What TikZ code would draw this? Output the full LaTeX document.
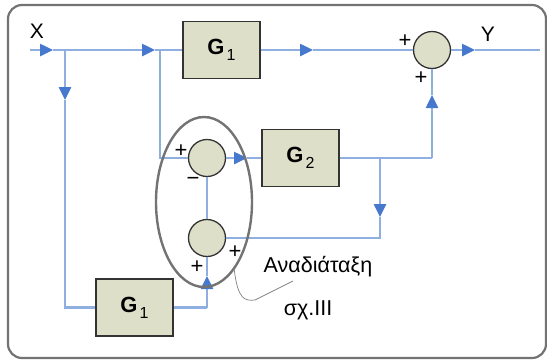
\documentclass[tikz,border=0pt]{standalone}
\usepackage{fontspec}
\setmainfont{Liberation Sans}
\usetikzlibrary{arrows.meta,shapes.geometric}
\definecolor{flowc}{RGB}{143,175,225}
\definecolor{tipc}{RGB}{70,120,205}
\definecolor{boxfill}{RGB}{221,223,200}
\definecolor{framec}{RGB}{115,115,115}
\newcommand{\gsub}[1]{G\hspace{2pt}\raisebox{-6pt}{\fontsize{16}{16}\selectfont\mdseries #1}}
\tikzset{
  flow/.style={draw=flowc, line width=2.5pt},
  flowarr/.style={flow, -{Triangle[length=13pt,width=12pt,color=tipc]}},
  blk/.style={draw=black!80, fill=boxfill, line width=1.3pt, minimum width=77pt, minimum height=57pt, inner sep=0pt, font=\fontsize{22}{24}\selectfont\bfseries},
  sum/.style={circle, draw=black!80, fill=boxfill, line width=1.3pt, minimum size=37pt, inner sep=0pt},
  sgn/.style={font=\fontsize{22}{22}\selectfont, inner sep=0pt},
  lbl/.style={font=\fontsize{21}{21}\selectfont, inner sep=0pt},
  txt/.style={font=\fontsize{21.5}{21.5}\selectfont, inner sep=0pt},
  grpstyle/.style={ellipse, draw=framec, line width=2.4pt, minimum width=96pt, minimum height=170pt, inner sep=0pt},
}
\begin{document}
\begin{tikzpicture}[x=1pt,y=-1pt]
\useasboundingbox (0,0) rectangle (547,360);
\draw[framec, line width=2.2pt, rounded corners=14pt] (8,5) rectangle (546,358);

% blocks
\node[blk] (g1) at (221.5,50) {\gsub{1}};
\node[blk] (g2) at (300.5,158) {\gsub{2}};
\node[blk] (g1b) at (134.5,307.5) {\gsub{1}};
\node[sum] (s1) at (432,50) {};
\node[sum] (sa) at (207,158) {};
\node[sum] (sb) at (207,238) {};

% coordinates
\coordinate (xin) at (30,50);
\coordinate (a1) at (53,50);
\coordinate (j1) at (65,50);
\coordinate (a2) at (155,50);
\coordinate (j2) at (160,50);
\coordinate (a3) at (65,100);
\coordinate (c1) at (65,307.5);
\coordinate (c2) at (160,158);
\coordinate (a4) at (313,50);
\coordinate (a5) at (475,50);
\coordinate (yout) at (540,50);
\coordinate (a6) at (247,158);
\coordinate (c3) at (432,158);
\coordinate (a7) at (432,95);
\coordinate (j3) at (380,158);
\coordinate (a8) at (380,217);
\coordinate (c4) at (380,238);
\coordinate (c5) at (207,307.5);
\coordinate (a9) at (207,276);

% connectors
\draw[flowarr] (xin) -- (a1);
\draw[flowarr] (a1) -- (a2);
\draw[flow] (a2) -- (g1.west);
\draw[flowarr] (j1) -- (a3);
\draw[flow] (a3) -- (c1) -- (g1b.west);
\draw[flow] (j2) -- (c2) -- (sa.west);
\draw[flowarr] (g1.east) -- (a4);
\draw[flow] (a4) -- (s1.west);
\draw[flowarr] (s1.east) -- (a5);
\draw[flow] (a5) -- (yout);
\draw[flowarr] (sa.east) -- (a6);
\draw[flow] (a6) -- (g2.west);
\draw[flow] (g2.east) -- (c3);
\draw[flowarr] (c3) -- (a7);
\draw[flow] (a7) -- (s1.south);
\draw[flowarr] (j3) -- (a8);
\draw[flow] (a8) -- (c4) -- (sb.east);
\draw[flow] (sb.north) -- (sa.south);
\draw[flow] (g1b.east) -- (c5);
\draw[flowarr] (c5) -- (a9);
\draw[flow] (a9) -- (sb.south);

% group ellipse and callout
\node[grpstyle] (grp) at (204,202) {};
\coordinate (k1) at (293,281);
\draw[gray, line width=0.7pt] (grp.-66) .. controls (238,300) and (245,301) .. (255,300) -- (k1);

% labels
\node[lbl] (lx) at (37,31) {X};
\node[lbl] (ly) at (488,34) {Y};
\node[sgn] (p1) at (405,41) {+};
\node[sgn] (p2) at (421,78) {+};
\node[sgn] (p3) at (181,151) {+};
\node[sgn] (m1) at (193,181) {−};
\node[sgn] (p4) at (197,267) {+};
\node[sgn] (p5) at (235,252) {+};
\node[txt] (t1) at (318,267) {Αναδιάταξη};
\node[txt] (t2) at (308,310) {σχ.ΙΙΙ};
\end{tikzpicture}
\end{document}
